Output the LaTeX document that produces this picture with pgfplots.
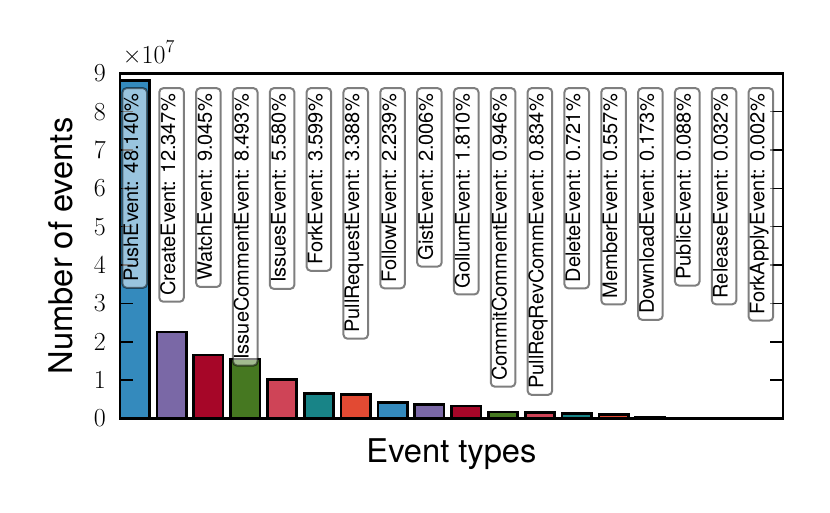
\documentclass[border=0pt]{standalone}
\usepackage{fontspec}
\setsansfont{TeX Gyre Heros}
\usepackage{pgfplots}
\pgfplotsset{compat=1.18}
\definecolor{c1}{HTML}{348ABD}
\definecolor{c2}{HTML}{7A68A6}
\definecolor{c3}{HTML}{A60628}
\definecolor{c4}{HTML}{467821}
\definecolor{c5}{HTML}{CF4457}
\definecolor{c6}{HTML}{188487}
\definecolor{c7}{HTML}{E24A33}
\pgfplotsset{barstyle/.style={ybar, bar width=0.8, bar shift=0pt, draw=black, line width=2pt}}
\newcommand{\tickfont}{\rmfamily\fontsize{19.5}{22}\selectfont}
\begin{document}
\begin{tikzpicture}
\path[use as bounding box] (0,0) rectangle (622.5pt,384pt);
\begin{axis}[
  axis on top,
  at={(90pt,70.1pt)}, anchor=south west,
  scale only axis, width=497.25pt, height=258.9pt,
  xmin=0, xmax=18, ymin=0, ymax=9e7,
  xtick=\empty,
  ytick={0,1e7,2e7,3e7,4e7,5e7,6e7,7e7,8e7,9e7},
  yticklabels={{\tickfont 0},{\tickfont 1},{\tickfont 2},{\tickfont 3},{\tickfont 4},{\tickfont 5},{\tickfont 6},{\tickfont 7},{\tickfont 8},{\tickfont 9}},
  yticklabel style={inner sep=0pt, xshift=-10.5pt, anchor=east},
  scaled y ticks=false,
  ytick pos=both,
  tick align=inside,
  major tick length=10pt,
  every tick/.style={black, line width=1.1pt},
  axis line style={line width=2pt},
  ylabel={Number of events},
  ylabel style={at={(axis description cs:-0.09,0.5)}, anchor=center, font=\sffamily\fontsize{24.5}{29}\selectfont},
  xlabel={Event types},
  xlabel style={at={(axis description cs:0.5,-0.126)}, anchor=base, font=\sffamily\fontsize{24.5}{29}\selectfont},
  after end axis/.code={
    \node[anchor=base west, inner sep=0pt, xshift=2pt, yshift=7.5pt] at (rel axis cs:0,1)
      {\tickfont ×10\raisebox{0.42em}{\fontsize{13.6}{15}\selectfont 7}};
  },
]
\addplot[barstyle, fill=c1] coordinates {(0.4,8.81e7) (7.4,0.4097e7) (14.4,0.0317e7)};
\addplot[barstyle, fill=c2] coordinates {(1.4,2.2595e7) (8.4,0.3671e7) (15.4,0.0161e7)};
\addplot[barstyle, fill=c3] coordinates {(2.4,1.655e7) (9.4,0.3312e7) (16.4,0.00586e7)};
\addplot[barstyle, fill=c4] coordinates {(3.4,1.554e7) (10.4,0.1731e7) (17.4,0.00037e7)};
\addplot[barstyle, fill=c5] coordinates {(4.4,1.021e7) (11.4,0.1526e7)};
\addplot[barstyle, fill=c6] coordinates {(5.4,0.6586e7) (12.4,0.1319e7)};
\addplot[barstyle, fill=c7] coordinates {(6.4,0.620e7) (13.4,0.1019e7)};
\addplot[draw=none, mark=none,
  nodes near coords, point meta=explicit symbolic,
  every node near coord/.style={rotate=90, anchor=east, draw=black, draw opacity=0.5,
    fill=white, fill opacity=0.5, text opacity=1, line width=1.5pt, rounded corners=3pt,
    inner sep=4.5pt, text height=0.73em, text depth=0.21em,
    font=\sffamily\fontsize{15}{18}\selectfont}]
coordinates {
(0.4,8.64e7) [PushEvent: 48.140\%]
(1.4,8.64e7) [CreateEvent: 12.347\%]
(2.4,8.64e7) [WatchEvent: 9.045\%]
(3.4,8.64e7) [IssueCommentEvent: 8.493\%]
(4.4,8.64e7) [IssuesEvent: 5.580\%]
(5.4,8.64e7) [ForkEvent: 3.599\%]
(6.4,8.64e7) [PullRequestEvent: 3.388\%]
(7.4,8.64e7) [FollowEvent: 2.239\%]
(8.4,8.64e7) [GistEvent: 2.006\%]
(9.4,8.64e7) [GollumEvent: 1.810\%]
(10.4,8.64e7) [CommitCommentEvent: 0.946\%]
(11.4,8.64e7) [PullReqRevCommEvent: 0.834\%]
(12.4,8.64e7) [DeleteEvent: 0.721\%]
(13.4,8.64e7) [MemberEvent: 0.557\%]
(14.4,8.64e7) [DownloadEvent: 0.173\%]
(15.4,8.64e7) [PublicEvent: 0.088\%]
(16.4,8.64e7) [ReleaseEvent: 0.032\%]
(17.4,8.64e7) [ForkApplyEvent: 0.002\%]
};
\end{axis}
\end{tikzpicture}
\end{document}
